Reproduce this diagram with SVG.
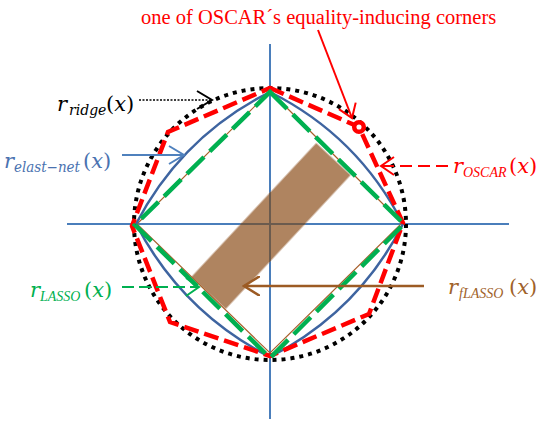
<svg xmlns="http://www.w3.org/2000/svg" width="547" height="438" viewBox="0 0 547 438">
<style>
.axis{stroke:#4A7EBB;stroke-width:2;fill:none}
.axisdark{stroke:#6B5B4E;stroke-width:2;fill:none}
.ridge{stroke:#000;stroke-width:4;stroke-dasharray:4 5;fill:none}
.oscar{stroke:#FF0000;stroke-width:4.5;stroke-dasharray:15 6;fill:none;stroke-linejoin:miter}
.enet{stroke:#3E64A0;stroke-width:2.5;fill:none}
.flasso{stroke:#A85F2A;stroke-width:1.2;fill:none}
.lasso{stroke:#00B050;stroke-width:4.5;stroke-dasharray:24 8;fill:none}
.lbl{font-family:"DejaVu Serif","Liberation Serif",serif;font-style:italic;font-size:21px}
.sub{font-size:14px}
.cap{font-family:"Liberation Serif","Times New Roman",serif;font-size:14px}
.up{font-style:normal}
.title{font-family:"Liberation Serif","Times New Roman",serif;font-size:20.5px;fill:#FF0000}
</style>
<defs>
<marker id="mk-black" markerUnits="userSpaceOnUse" viewBox="0 0 18 20" refX="16" refY="10" markerWidth="18" markerHeight="20" orient="auto"><path d="M1,1 L16,10 L1,19" fill="none" stroke="#000" stroke-width="2"/></marker>
<marker id="mk-blue" markerUnits="userSpaceOnUse" viewBox="0 0 18 20" refX="16" refY="10" markerWidth="18" markerHeight="20" orient="auto"><path d="M1,1 L16,10 L1,19" fill="none" stroke="#4F81BD" stroke-width="2"/></marker>
<marker id="mk-red" markerUnits="userSpaceOnUse" viewBox="0 0 18 20" refX="16" refY="10" markerWidth="18" markerHeight="20" orient="auto"><path d="M3,1 L16,10 L3,19" fill="none" stroke="#FF0000" stroke-width="2"/></marker>
<marker id="mk-green" markerUnits="userSpaceOnUse" viewBox="0 0 18 20" refX="16" refY="10" markerWidth="18" markerHeight="20" orient="auto"><path d="M3,1 L16,10 L3,19" fill="none" stroke="#00B050" stroke-width="2"/></marker>
<marker id="mk-brown" markerUnits="userSpaceOnUse" viewBox="0 0 18 20" refX="16" refY="10" markerWidth="18" markerHeight="20" orient="auto"><path d="M0,0 L16,10 L0,20" fill="none" stroke="#9C5B24" stroke-width="2.5"/></marker>
<clipPath id="rectclip"><rect x="-91.5" y="-23.5" width="183" height="47" transform="translate(271,226) rotate(-47)"/></clipPath>
<filter id="soft" x="-10%" y="-10%" width="120%" height="120%"><feGaussianBlur stdDeviation="0.7"/></filter>
</defs>

<g id="axes">
<line class="axis" x1="67" y1="224" x2="509" y2="224"/>
<line class="axis" x1="270" y1="44" x2="270" y2="419"/>
</g>

<g id="feasible-region">
<rect x="-91.5" y="-23.5" width="183" height="47" fill="#AF8461" filter="url(#soft)" transform="translate(271,226) rotate(-47)"/>
<g clip-path="url(#rectclip)">
<line class="axisdark" x1="67" y1="224" x2="509" y2="224"/>
<line class="axisdark" x1="270" y1="44" x2="270" y2="419"/>
</g>
</g>

<g id="fLASSO-ball">
<path class="flasso" d="M270,91 L402,223 L270,353 L137,224 Z"/>
</g>
<g id="elastic-net-ball">
<path class="enet" d="M136,224 Q182,136 270,92 Q358,136 403,224 Q358,312 270,357 Q182,312 136,224 Z"/>
</g>
<g id="ridge-ball">
<circle class="ridge" cx="270" cy="224" r="136"/>
</g>
<g id="OSCAR-ball">
<path class="oscar" d="M270,88 L359,127 L403,223 L369,314 L270,356 L170,322 L132,226 L168,132 Z"/>
</g>
<g id="LASSO-ball">
<path class="lasso" d="M270,92 L404,224 L270,358 L135,225 Z"/>
</g>
<g id="OSCAR-corner">
<circle cx="359" cy="127" r="4.8" fill="#fff" stroke="#FF0000" stroke-width="4.5"/>
</g>

<g id="connectors">
<line x1="318" y1="30" x2="352" y2="118" stroke="#FF0000" stroke-width="2" marker-end="url(#mk-red)"/>
<line x1="139" y1="100" x2="212" y2="100" stroke="#000" stroke-width="1.5" stroke-dasharray="2 1.5" marker-end="url(#mk-black)"/>
<line x1="122" y1="155" x2="184" y2="155" stroke="#4F81BD" stroke-width="2" marker-end="url(#mk-blue)"/>
<line x1="448" y1="166" x2="381" y2="166" stroke="#FF0000" stroke-width="2" stroke-dasharray="12 6" marker-end="url(#mk-red)"/>
<line x1="122" y1="287" x2="199" y2="287" stroke="#00B050" stroke-width="2" stroke-dasharray="12 5" marker-end="url(#mk-green)"/>
<line x1="424" y1="286" x2="244" y2="286" stroke="#9C5B24" stroke-width="2.5" marker-end="url(#mk-brown)"/>
</g>

<g id="title-label">
<text class="title" x="141" y="24">one of OSCAR´s equality-inducing corners</text>
</g>
<g id="ridge-label">
<text class="lbl" x="57" y="111" fill="#000">r<tspan class="sub" x="69" y="115">ridge</tspan><tspan class="up" x="106" y="111">(</tspan><tspan>x</tspan><tspan class="up">)</tspan></text>
</g>
<g id="elast-net-label">
<text class="lbl" x="4" y="168" fill="#4A72B0">r<tspan class="sub" x="14" y="172" textLength="66" lengthAdjust="spacingAndGlyphs">elast−net</tspan><tspan class="up" x="83" y="168">(</tspan><tspan>x</tspan><tspan class="up">)</tspan></text>
</g>
<g id="OSCAR-label">
<text class="lbl" x="453" y="173" fill="#FF0000">r<tspan class="cap" x="463" y="177">OSCAR</tspan><tspan class="up" x="509" y="173">(</tspan><tspan>x</tspan><tspan class="up">)</tspan></text>
</g>
<g id="LASSO-label">
<text class="lbl" x="30" y="297" fill="#00B050">r<tspan class="cap" x="40" y="301">LASSO</tspan><tspan class="up" x="84" y="297">(</tspan><tspan>x</tspan><tspan class="up">)</tspan></text>
</g>
<g id="fLASSO-label">
<text class="lbl" x="448" y="294" fill="#A0622A">r<tspan class="cap" x="459" y="298">fLASSO</tspan><tspan class="up" x="509" y="294">(</tspan><tspan>x</tspan><tspan class="up">)</tspan></text>
</g>
</svg>
